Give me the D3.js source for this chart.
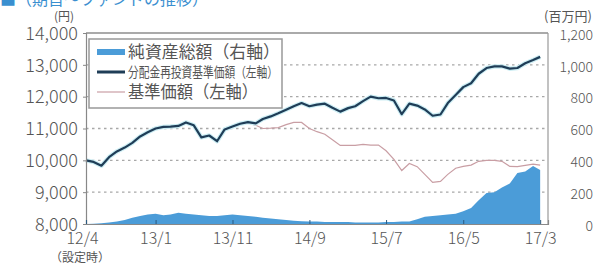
<!doctype html>
<html>
<head>
<meta charset="utf-8"/>
<title>基準価額等の推移</title>
<script src="https://d3js.org/d3.v7.min.js"></script>
<style>
  body, html { margin: 0; padding: 0; background: #fff; }
  svg { display: block; }
  .tick text { fill: #555; }
</style>
</head>
<body>
<svg width="598" height="264"></svg>
<script>
// monthly data, 2012/4 (設定時) .. 2017/3
var months = d3.timeMonth.range(new Date(2012, 3, 1), new Date(2017, 3, 2));

// 分配金再投資基準価額 (左軸, 円)
var navReinvested = [
  10000, 9950, 9830, 10100, 10280, 10400, 10550, 10750, 10880, 11000,
  11050, 11060, 11080, 11190, 11100, 10720, 10780, 10600, 10970, 11060,
  11150, 11200, 11160, 11300, 11380, 11480, 11590, 11700, 11800, 11700,
  11750, 11780, 11650, 11530, 11640, 11700, 11860, 12000, 11950, 11960,
  11880, 11450, 11780, 11720, 11600, 11400, 11440, 11800, 12050, 12300,
  12420, 12720, 12900, 12950, 12950, 12880, 12900, 13050, 13150, 13250
];

// 基準価額 (左軸, 円)
var nav = [
  10000, 9950, 9830, 10100, 10280, 10400, 10550, 10750, 10880, 11000,
  11050, 11060, 11080, 11190, 11100, 10720, 10780, 10600, 10970, 11060,
  11150, 11180, 11100, 11000, 11010, 11030, 11120, 11190, 11190, 11000,
  10900, 10820, 10650, 10470, 10470, 10470, 10500, 10480, 10480, 10300,
  10030, 9680, 9900, 9800, 9560, 9310, 9340, 9560, 9750, 9810,
  9850, 9970, 10000, 10000, 9970, 9810, 9800, 9840, 9880, 9850
];

// 純資産総額 (右軸, 百万円)
var netAssets = [
  0, 2, 5, 10, 15, 25, 40, 50, 60, 65,
  55, 60, 70, 65, 60, 55, 50, 50, 55, 60,
  55, 50, 45, 40, 35, 30, 25, 20, 18, 15,
  15, 12, 12, 12, 12, 10, 10, 10, 10, 12,
  12, 15, 15, 30, 45, 50, 55, 60, 65, 80,
  100, 150, 195, 200, 230, 255, 320, 330, 365, 340
];

var xTicks = [new Date(2012, 3, 1), new Date(2013, 0, 1), new Date(2013, 10, 1),
  new Date(2014, 8, 1), new Date(2015, 6, 1), new Date(2016, 4, 1), new Date(2017, 2, 1)];
var leftTicks = [8000, 9000, 10000, 11000, 12000, 13000, 14000];
var rightTicks = [0, 200, 400, 600, 800, 1000, 1200];

var legendItems = [
  {label: "純資産総額（右軸）", type: "area"},
  {label: "分配金再投資基準価額（左軸）", type: "dark"},
  {label: "基準価額（左軸）", type: "pink"}
];

var svg = d3.select("svg");
var margin = {left: 86, right: 50, top: 33, bottom: 40};
var W = 598, H = 264;
var x0 = margin.left, x1 = W - margin.right, yTop = margin.top, yBot = H - margin.bottom;

var x = d3.scaleTime().domain([months[0], months[months.length - 1]]).range([x0, x1]);
var yL = d3.scaleLinear().domain([8000, 14000]).range([yBot, yTop]);
var yR = d3.scaleLinear().domain([0, 1200]).range([yBot, yTop]);

var font = "'Noto Sans CJK JP', 'Noto Sans', sans-serif";
var blue = "#4b9cd8", dark = "#1f3d57", pink = "#c99ea4", grey = "#555";

// cut-off heading at the very top
svg.append("text").attr("x", 0).attr("y", 5)
  .attr("font-family", font).attr("font-size", 16).attr("fill", "#3a8fd0")
  .text("■（期首〜ファンドの推移）");

// grid
svg.append("g").selectAll("line")
  .data(leftTicks.slice(1, -1)).enter().append("line")
  .attr("x1", x0).attr("x2", x1)
  .attr("y1", function(d) { return yL(d); }).attr("y2", function(d) { return yL(d); })
  .attr("stroke", "#a8a8a8").attr("stroke-width", 1.3).attr("stroke-dasharray", "2.5,3.5");

// net assets area
var area = d3.area()
  .x(function(d, i) { return x(months[i]); })
  .y0(yBot)
  .y1(function(d) { return yR(d); });
svg.append("path").datum(netAssets)
  .attr("d", area).attr("fill", blue);

// lines
var lineL = d3.line()
  .x(function(d, i) { return x(months[i]); })
  .y(function(d) { return yL(d); });

svg.append("path").datum(nav)
  .attr("d", lineL).attr("fill", "none")
  .attr("stroke", pink).attr("stroke-width", 1.2);

svg.append("path").datum(navReinvested)
  .attr("d", lineL).attr("fill", "none")
  .attr("stroke", "#cdeef4").attr("stroke-width", 4.5).attr("stroke-linejoin", "round");
svg.append("path").datum(navReinvested)
  .attr("d", lineL).attr("fill", "none")
  .attr("stroke", dark).attr("stroke-width", 2.2).attr("stroke-linejoin", "round");

// frame
svg.append("line").attr("x1", x0).attr("x2", x1).attr("y1", yTop).attr("y2", yTop)
  .attr("stroke", "#aaa").attr("stroke-width", 2);
svg.append("line").attr("x1", x1).attr("x2", x1).attr("y1", yTop).attr("y2", yBot)
  .attr("stroke", "#999").attr("stroke-width", 1.2);

// left axis
var gL = svg.append("g").attr("transform", "translate(" + x0 + ",0)")
  .call(d3.axisLeft(yL).tickValues(leftTicks).tickFormat(d3.format(",")).tickSize(3).tickPadding(5));
gL.select(".domain").attr("stroke", "#888").attr("stroke-width", 1.2);
gL.selectAll(".tick line").attr("stroke", "#888");
gL.selectAll(".tick text").attr("font-family", font).attr("font-size", 18)
  .attr("font-weight", 300).attr("dy", "0.35em");

// right axis
var gR = svg.append("g").attr("transform", "translate(" + x1 + ",0)")
  .call(d3.axisRight(yR).tickValues(rightTicks).tickFormat(d3.format(",")).tickSize(0).tickPadding(45));
gR.select(".domain").remove();
gR.selectAll(".tick text").attr("font-family", font).attr("font-size", 14)
  .attr("font-weight", 300).attr("text-anchor", "end").attr("dy", "0.45em");

// bottom axis
var gB = svg.append("g").attr("transform", "translate(0," + yBot + ")")
  .call(d3.axisBottom(x).tickValues(xTicks).tickFormat(d3.timeFormat("%y/%-m")).tickSize(-4).tickPadding(9));
gB.select(".domain").attr("stroke", "#888").attr("stroke-width", 1.2);
gB.selectAll(".tick line").attr("stroke", "#2a5a80");
gB.selectAll(".tick text").attr("font-family", font).attr("font-size", 16)
  .attr("font-weight", 300);
gB.selectAll(".tick text").filter(function(d, i) { return i === 0; }).attr("dx", -4);

svg.append("text").attr("x", x(xTicks[0]) - 6).attr("y", 262)
  .attr("text-anchor", "middle").attr("font-family", font).attr("font-size", 12)
  .attr("fill", grey).text("（設定時）");

// unit labels
svg.append("text").attr("x", 64).attr("y", 21).attr("text-anchor", "middle")
  .attr("font-family", font).attr("font-size", 12).attr("fill", grey).text("(円)");
svg.append("text").attr("x", 568).attr("y", 21).attr("text-anchor", "middle")
  .attr("font-family", font).attr("font-size", 13).attr("fill", grey).text("(百万円)");

// legend
var lg = svg.append("g");
lg.append("rect").attr("x", 89).attr("y", 39).attr("width", 193).attr("height", 69)
  .attr("fill", "#fff").attr("stroke", "#999").attr("stroke-width", 1.5);
var rowY = [52, 72, 92];
legendItems.forEach(function(it, i) {
  var cy = rowY[i];
  if (it.type === "area") {
    lg.append("rect").attr("x", 97).attr("y", cy - 3).attr("width", 28).attr("height", 6).attr("fill", blue);
  } else {
    lg.append("line").attr("x1", 97).attr("x2", 125).attr("y1", cy).attr("y2", cy)
      .attr("stroke", it.type === "dark" ? dark : pink)
      .attr("stroke-width", it.type === "dark" ? 3 : 1.2);
  }
  var t = lg.append("text").attr("x", 128).attr("y", cy).attr("dy", "0.36em")
    .attr("font-family", font).attr("fill", grey).text(it.label);
  if (i === 1) {
    t.attr("font-size", 14).attr("textLength", 150).attr("lengthAdjust", "spacingAndGlyphs");
  } else if (i === 0) {
    t.attr("font-size", 17).attr("textLength", 152).attr("lengthAdjust", "spacingAndGlyphs");
  } else {
    t.attr("font-size", 17).attr("textLength", 130).attr("lengthAdjust", "spacingAndGlyphs");
  }
});
</script>
</body>
</html>
